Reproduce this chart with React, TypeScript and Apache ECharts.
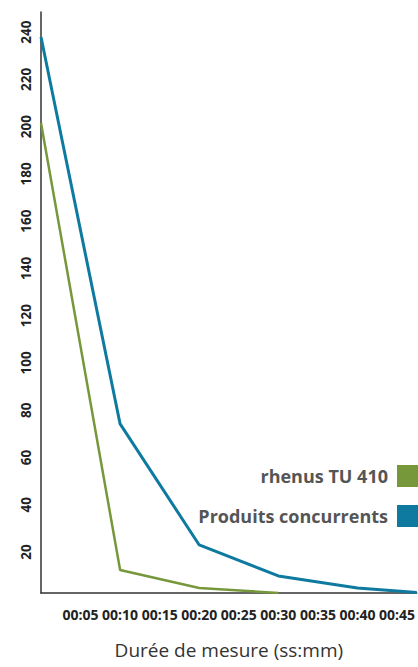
import React, { useEffect, useRef } from "react";
import * as echarts from "echarts";

const rhenusTimes = [0, 10, 20, 30];
const rhenusValues = [201.5, 12.4, 4.8, 2.7];
const rivalTimes = [0, 10, 20, 30, 40, 47.5];
const rivalValues = [237.9, 74.2, 23.0, 9.9, 4.8, 2.9];
const xTickValues = [5, 10, 15, 20, 25, 30, 35, 40, 45];
const xTickLabels = ["00:05", "00:10", "00:15", "00:20", "00:25", "00:30", "00:35", "00:40", "00:45"];
const yTickValues = [20, 40, 60, 80, 100, 120, 140, 160, 180, 200, 220, 240];
const seriesNames = ["rhenus TU 410", "Produits concurrents"];
const xTitle = "Durée de mesure (ss:mm)";

const FONT = "'Open Sans', 'Noto Sans', sans-serif";

export default function App() {
  const ref = useRef<HTMLDivElement>(null);
  useEffect(() => {
    if (!ref.current) return;
    const chart = echarts.init(ref.current, null, { renderer: "svg" });
    chart.setOption({
      animation: false,
      backgroundColor: "#ffffff",
      grid: { left: 41, right: 0, top: 12, bottom: 74, containLabel: false },
      legend: {
        orient: "vertical",
        right: 0,
        top: 465,
        padding: 0,
        align: "right",
        itemWidth: 21,
        itemHeight: 22,
        itemGap: 18,
        icon: "rect",
        data: seriesNames,
        textStyle: {
          fontFamily: FONT,
          fontWeight: "bold",
          fontSize: 18,
          color: "#555555",
          padding: [0, 4, 0, 0],
        },
      },
      xAxis: {
        type: "value",
        min: 0,
        max: 47.5,
        interval: 5,
        splitLine: { show: false },
        axisTick: { show: false },
        axisLine: { show: true, lineStyle: { color: "#333333", width: 1.5 } },
        axisLabel: {
          margin: 14,
          fontFamily: FONT,
          fontWeight: "bold",
          fontSize: 14,
          color: "#222222",
          showMaxLabel: false,
          formatter: (v: number) => {
            const i = xTickValues.indexOf(v);
            return i >= 0 ? xTickLabels[i] : "";
          },
        },
        name: xTitle,
        nameLocation: "middle",
        nameGap: 47,
        nameTextStyle: { fontFamily: FONT, fontSize: 19, color: "#333333" },
      },
      yAxis: {
        type: "value",
        min: 2.67,
        max: 248.5,
        splitNumber: 12,
        splitLine: { show: false },
        axisTick: { show: false },
        axisLine: { show: true, lineStyle: { color: "#333333", width: 1.5 } },
        axisLabel: {
          rotate: 90,
          margin: 8,
          fontFamily: FONT,
          fontWeight: "bold",
          fontSize: 13.5,
          color: "#222222",
          showMinLabel: false,
          showMaxLabel: false,
          formatter: (v: number) => (yTickValues.indexOf(v) >= 0 ? String(v) : ""),
        },
      },
      series: [
        {
          name: seriesNames[0],
          type: "line",
          symbol: "none",
          color: "#76983b",
          lineStyle: { width: 2.5, color: "#76983b" },
          data: rhenusTimes.map((t, i) => [t, rhenusValues[i]]),
        },
        {
          name: seriesNames[1],
          type: "line",
          symbol: "none",
          color: "#0f7aa0",
          lineStyle: { width: 3, color: "#0f7aa0" },
          data: rivalTimes.map((t, i) => [t, rivalValues[i]]),
        },
      ],
    });
    return () => chart.dispose();
  }, []);
  return (
    <div
      ref={ref}
      style={{ position: "fixed", left: 0, top: 0, width: 418, height: 667 }}
    />
  );
}
